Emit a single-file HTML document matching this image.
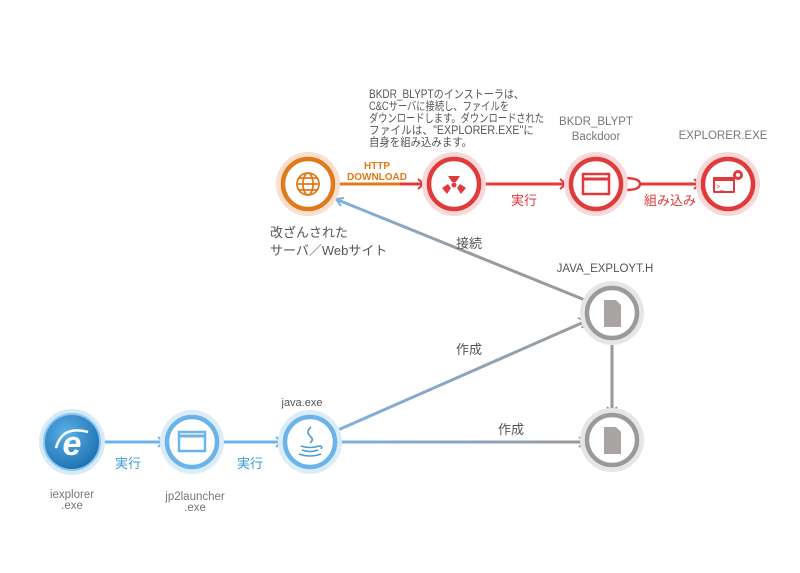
<!DOCTYPE html>
<html><head><meta charset="utf-8"><style>
body{margin:0;background:#fff;width:800px;height:568px;overflow:hidden}
svg text{font-family:"Liberation Sans","Noto Sans CJK JP",sans-serif}
</style></head><body>
<svg width="800" height="568" viewBox="0 0 800 568" xmlns="http://www.w3.org/2000/svg">
<defs>
<linearGradient id="g2" gradientUnits="userSpaceOnUse" x1="340" y1="210" x2="590" y2="320"><stop offset="0" stop-color="#7fb0dc"/><stop offset="0.5" stop-color="#9a9a9a"/><stop offset="1" stop-color="#9a9a9a"/></linearGradient>
<linearGradient id="g3" gradientUnits="userSpaceOnUse" x1="340" y1="430" x2="590" y2="320"><stop offset="0" stop-color="#7fb0dc"/><stop offset="1" stop-color="#9a9a9a"/></linearGradient>
<linearGradient id="g4" gradientUnits="userSpaceOnUse" x1="340" y1="442" x2="590" y2="442"><stop offset="0" stop-color="#7fb0dc"/><stop offset="1" stop-color="#9a9a9a"/></linearGradient>
<radialGradient id="ie" cx="0.4" cy="0.35" r="0.7"><stop offset="0" stop-color="#5ab0e8"/><stop offset="1" stop-color="#1b6fb0"/></radialGradient>
</defs>

<g fill="none" stroke-width="3">
<line x1="336" y1="184" x2="422" y2="184" stroke="#e07a1a"/>
<line x1="400" y1="184" x2="422" y2="184" stroke="#e03a3a"/>
<path d="M418 179 L424 184 L418 189" stroke="#e03a3a" stroke-width="2"/>
<line x1="482" y1="184" x2="564" y2="184" stroke="#e03a3a"/>
<path d="M560 179 L566 184 L560 189" stroke="#e03a3a" stroke-width="2"/>
<line x1="640" y1="184" x2="698" y2="184" stroke="#e03a3a"/>
<path d="M694 179 L700 184 L694 189" stroke="#e03a3a" stroke-width="2"/>
<path d="M624 178 Q640 178 640 184 Q640 190 626 190" stroke="#e03a3a" stroke-width="2.5"/>
<line x1="585" y1="300" x2="338" y2="200" stroke="url(#g2)"/>
<path d="M344 198 L336 199 L341 206" stroke="#7fb0dc" stroke-width="2"/>
<line x1="338" y1="430" x2="584" y2="322" stroke="url(#g3)"/>
<path d="M578 318 L586 321 L582 328" stroke="#9a9a9a" stroke-width="2"/>
<line x1="338" y1="442" x2="584" y2="442" stroke="url(#g4)"/>
<path d="M579 437 L585 442 L579 447" stroke="#9a9a9a" stroke-width="2"/>
<line x1="612" y1="340" x2="612" y2="412" stroke="#9a9a9a"/>
<path d="M607 407 L612 413 L617 407" stroke="#9a9a9a" stroke-width="2"/>
<line x1="100" y1="442" x2="162" y2="442" stroke="#6ab4ea"/>
<path d="M158 437 L164 442 L158 447" stroke="#6ab4ea" stroke-width="2"/>
<line x1="220" y1="442" x2="280" y2="442" stroke="#6ab4ea"/>
<path d="M276 437 L282 442 L276 447" stroke="#6ab4ea" stroke-width="2"/>
</g>

<g>
<circle cx="308" cy="184" r="32" fill="#f7e0d0"/><circle cx="308" cy="184" r="25" fill="#fff" stroke="#e07a1a" stroke-width="4.5"/>
<g fill="none" stroke="#e07a1a" stroke-width="1.8"><circle cx="308" cy="184" r="11"/><ellipse cx="308" cy="184" rx="5" ry="11"/><line x1="297" y1="184" x2="319" y2="184"/><line x1="299" y1="178" x2="317" y2="178"/><line x1="299" y1="190" x2="317" y2="190"/></g>

<circle cx="454" cy="184" r="32" fill="#f8d8d8"/><circle cx="454" cy="184" r="25" fill="#fff" stroke="#e03a3a" stroke-width="4.5"/>
<g fill="#e03a3a"><circle cx="454" cy="185" r="2.5"/><path d="M448 176 L460 176 L456 182 L452 182Z"/><path d="M442 188 L448 184 L451 188 L447 194Z"/><path d="M466 188 L460 184 L457 188 L461 194Z"/></g>

<circle cx="596" cy="184" r="32" fill="#f8d8d8"/><circle cx="596" cy="184" r="25" fill="#fff" stroke="#e03a3a" stroke-width="4.5"/>
<rect x="583" y="174" width="26" height="20" fill="none" stroke="#e03a3a" stroke-width="2.5"/><line x1="583" y1="179" x2="609" y2="179" stroke="#e03a3a" stroke-width="3"/>

<circle cx="728" cy="184" r="32" fill="#f8d8d8"/><circle cx="728" cy="184" r="25" fill="#fff" stroke="#e03a3a" stroke-width="4.5"/>
<rect x="713" y="177" width="22" height="16" rx="1" fill="#e03a3a"/><rect x="715" y="181" width="18" height="10" fill="#fff"/><text x="716" y="189" font-size="7" fill="#e03a3a">&gt;_</text>
<circle cx="738" cy="175" r="5" fill="#e03a3a"/><circle cx="738" cy="175" r="2" fill="#fff"/>

<circle cx="612" cy="313" r="32" fill="#e6e6e6"/><circle cx="612" cy="313" r="25" fill="#fff" stroke="#9a9a9a" stroke-width="4.5"/>
<path d="M604 300 L616 300 L621 305 L621 327 L604 327Z" fill="#a9a3a3"/>
<circle cx="612" cy="440" r="32" fill="#e6e6e6"/><circle cx="612" cy="440" r="25" fill="#fff" stroke="#9a9a9a" stroke-width="4.5"/>
<path d="M604 427 L616 427 L621 432 L621 454 L604 454Z" fill="#a9a3a3"/>

<circle cx="72" cy="442" r="33" fill="#d6ebf8"/><circle cx="72" cy="442" r="28" fill="url(#ie)" stroke="#8cc6ee" stroke-width="2"/>
<text x="72" y="455" font-size="34" font-style="italic" font-weight="bold" fill="#fff" text-anchor="middle" font-family="Liberation Serif,serif">e</text>
<path d="M56 448 Q62 425 88 432" fill="none" stroke="#fff" stroke-width="2.5"/>

<circle cx="192" cy="442" r="32" fill="#dcecf8"/><circle cx="192" cy="442" r="25" fill="#fff" stroke="#6ab4ea" stroke-width="4.5"/>
<rect x="179" y="432" width="26" height="19" fill="none" stroke="#6ab4ea" stroke-width="2.5"/><line x1="179" y1="436" x2="205" y2="436" stroke="#6ab4ea" stroke-width="3"/>

<circle cx="310" cy="442" r="32" fill="#dcecf8"/><circle cx="310" cy="442" r="25" fill="#fff" stroke="#6ab4ea" stroke-width="4.5"/>
<g fill="none" stroke="#4a9ad8" stroke-width="1.6"><path d="M311 427 Q305 432 311 437 Q314 440 310 443"/><path d="M301 446 Q310 449 319 446"/><path d="M302 450 Q310 453 318 450"/><path d="M299 454 Q310 458 321 454"/><path d="M319 446 Q323 446 321 449"/></g>
</g>

<g font-size="11.5" fill="#555">
<text x="369" y="98" textLength="155" lengthAdjust="spacingAndGlyphs">BKDR_BLYPTのインストーラは、</text>
<text x="369" y="110" textLength="140" lengthAdjust="spacingAndGlyphs">C&amp;Cサーバに接続し、ファイルを</text>
<text x="369" y="122" textLength="175" lengthAdjust="spacingAndGlyphs">ダウンロードします。ダウンロードされた</text>
<text x="369" y="134" textLength="165" lengthAdjust="spacingAndGlyphs">ファイルは、"EXPLORER.EXE"に</text>
<text x="369" y="146" textLength="103" lengthAdjust="spacingAndGlyphs">自身を組み込みます。</text>
</g>
<g font-size="11.5" fill="#777">
<text x="596" y="125" text-anchor="middle">BKDR_BLYPT</text>
<text x="596" y="140" text-anchor="middle">Backdoor</text>
<text x="723" y="139" text-anchor="middle">EXPLORER.EXE</text>
<text x="605" y="272" text-anchor="middle" fill="#555">JAVA_EXPLOYT.H</text>
<text x="302" y="406" text-anchor="middle" font-size="11" fill="#555">java.exe</text>
<text x="72" y="498" text-anchor="middle">iexplorer</text>
<text x="72" y="509" text-anchor="middle">.exe</text>
<text x="195" y="500" text-anchor="middle">jp2launcher</text>
<text x="195" y="511" text-anchor="middle">.exe</text>
</g>
<g font-size="13" fill="#555">
<text x="270" y="237">改ざんされた</text>
<text x="270" y="255">サーバ／Webサイト</text>
<text x="456" y="248">接続</text>
<text x="456" y="354">作成</text>
<text x="498" y="434">作成</text>
</g>
<text x="377" y="169" font-size="10" font-weight="bold" fill="#e07a1a" text-anchor="middle">HTTP</text>
<text x="377" y="180" font-size="10" font-weight="bold" fill="#e07a1a" text-anchor="middle">DOWNLOAD</text>
<text x="524" y="205" font-size="13" fill="#e03a3a" text-anchor="middle">実行</text>
<text x="670" y="205" font-size="13" fill="#e03a3a" text-anchor="middle">組み込み</text>
<text x="128" y="468" font-size="13" fill="#3a9ad8" text-anchor="middle">実行</text>
<text x="250" y="468" font-size="13" fill="#3a9ad8" text-anchor="middle">実行</text>
</svg>
</body></html>
